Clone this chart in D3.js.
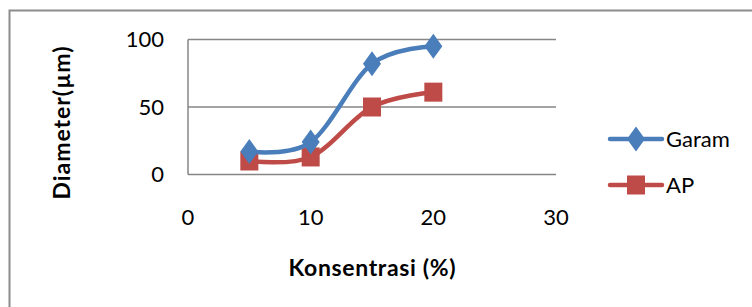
<!DOCTYPE html>
<html>
<head>
<meta charset="utf-8">
<script src="https://cdn.jsdelivr.net/npm/d3@7"></script>
<style>
  body { margin: 0; background: #fff; }
  text { font-family: Lato, "Open Sans", sans-serif; fill: #000; }
</style>
</head>
<body>
<div id="chart"></div>
<script>
// concentration (%) on x, diameter (um) on y
var konsentrasi = [5, 10, 15, 20];
var garam = [17, 24, 82, 95];
var ap = [10, 13, 50, 61];
var xTicks = [0, 10, 20, 30];
var yTicks = [0, 50, 100];
var seriesNames = ['Garam', 'AP'];

var WIDTH = 752, HEIGHT = 307;
var BLUE = '#4a7ebb', RED = '#be4b48', GRID = '#868686';

var svg = d3.select('#chart').append('svg')
    .attr('width', WIDTH)
    .attr('height', HEIGHT);

// outer chart area border (runs off the right and bottom edges)
svg.append('rect')
    .attr('x', 9.5).attr('y', 10.5)
    .attr('width', 900).attr('height', 400)
    .attr('fill', 'none')
    .attr('stroke', '#8c8c8c')
    .attr('stroke-width', 2);

var x = d3.scaleLinear().domain([0, 30]).range([188, 556]);
var y = d3.scaleLinear().domain([0, 100]).range([174.5, 39.5]);

// gridlines
svg.append('g').selectAll('line').data(yTicks).enter().append('line')
    .attr('x1', x(0)).attr('x2', x(30))
    .attr('y1', (d) => y(d)).attr('y2', (d) => y(d))
    .attr('stroke', GRID).attr('stroke-width', 1.5);

svg.append('line')
    .attr('x1', x(0)).attr('x2', x(0))
    .attr('y1', y(100)).attr('y2', y(0))
    .attr('stroke', GRID).attr('stroke-width', 1.5);

// tick labels
svg.append('g').selectAll('text').data(yTicks).enter().append('text')
    .attr('x', 164).attr('y', (d) => y(d))
    .attr('dy', '0.36em')
    .attr('text-anchor', 'end')
    .style('font-size', '22px')
    .text((d) => d);

svg.append('g').selectAll('text').data(xTicks).enter().append('text')
    .attr('x', (d) => x(d)).attr('y', 217)
    .attr('dy', '0.36em')
    .attr('text-anchor', 'middle')
    .style('font-size', '22px')
    .text((d) => d);

// axis titles
svg.append('text')
    .attr('transform', 'translate(70,123) rotate(-90)')
    .attr('text-anchor', 'middle')
    .style('font-size', '23px')
    .style('font-weight', 'bold')
    .attr('textLength', 153)
    .text('Diameter(\u00b5m)');

svg.append('text')
    .attr('x', 372).attr('y', 276)
    .attr('text-anchor', 'middle')
    .style('font-size', '23px')
    .style('font-weight', 'bold')
    .attr('textLength', 167)
    .text('Konsentrasi (%)');

var line = d3.line()
    .x((d) => x(d[0]))
    .y((d) => y(d[1]))
    .curve(d3.curveCatmullRom.alpha(0));

function Zip(xs, ys) {
  return xs.map((v, i) => [v, ys[i]]);
}

var diamond = d3.symbol().type(d3.symbolDiamond).size(180);

function DrawMarker(g, cx, cy, kind, color) {
  if (kind == 'diamond') {
    g.append('path')
        .attr('transform', 'translate(' + cx + ',' + cy + ') scale(1.25,1)')
        .attr('d', diamond())
        .attr('fill', color);
  } else {
    g.append('rect')
        .attr('x', cx - 9).attr('y', cy - 9.5)
        .attr('width', 18).attr('height', 19)
        .attr('fill', color);
  }
}

var series = [
  { name: seriesNames[0], values: garam, color: BLUE, marker: 'diamond' },
  { name: seriesNames[1], values: ap, color: RED, marker: 'square' }
];

// draw AP first so Garam sits on top like the original
series.slice().reverse().forEach((s) => {
  var g = svg.append('g');
  var pts = Zip(konsentrasi, s.values);
  g.append('path')
      .attr('d', line(pts))
      .attr('fill', 'none')
      .attr('stroke', s.color)
      .attr('stroke-width', 4.5)
      .attr('stroke-linejoin', 'round');
  pts.forEach((p) => DrawMarker(g, x(p[0]), y(p[1]), s.marker, s.color));
});

// legend
var legendY = [139, 185];
series.forEach((s, i) => {
  var g = svg.append('g');
  g.append('line')
      .attr('x1', 610).attr('x2', 662)
      .attr('y1', legendY[i]).attr('y2', legendY[i])
      .attr('stroke', s.color)
      .attr('stroke-width', 4.5)
      .attr('stroke-linecap', 'round');
  DrawMarker(g, 636, legendY[i], s.marker, s.color);
  g.append('text')
      .attr('x', 666).attr('y', legendY[i])
      .attr('dy', '0.36em')
      .style('font-size', '22px')
      .text(s.name);
});
</script>
</body>
</html>
